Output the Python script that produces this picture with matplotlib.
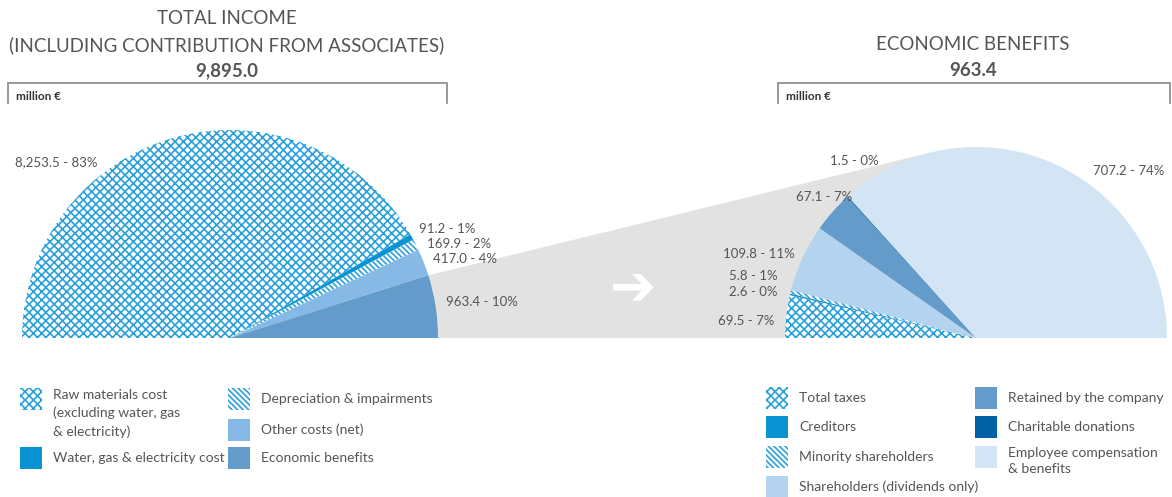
import numpy as np
import matplotlib
matplotlib.use("Agg")
import matplotlib.pyplot as plt
from matplotlib.patches import Rectangle, Polygon

plt.rcParams["font.family"] = ["Lato", "DejaVu Sans"]
plt.rcParams["hatch.linewidth"] = 1.2

# total income split
income_labels = ["Raw materials cost\n(excluding water, gas\n& electricity)", "Water, gas & electricity cost",
                 "Depreciation & impairments", "Other costs (net)", "Economic benefits"]
income_values = [8253.5, 91.2, 169.9, 417.0, 963.4]
income_pct = [83, 1, 2, 4, 10]
income_total = 9895.0

# economic benefits split
benefit_labels = ["Total taxes", "Creditors", "Minority shareholders", "Shareholders (dividends only)",
                  "Retained by the company", "Charitable donations", "Employee compensation\n& benefits"]
benefit_values = [69.5, 2.6, 5.8, 109.8, 67.1, 1.5, 707.2]
benefit_pct = [7, 0, 1, 11, 7, 0, 74]
benefit_total = 963.4

HATCH_BLUE = "#2aa0da"
income_colors = ["white", "#0a93d3", "white", "#86b9e6", "#639bca"]
income_hatch = ["xxxx", None, "\\\\\\\\\\\\", None, None]
benefit_colors = ["white", "#0a93d3", "white", "#b3d3ee", "#639bca", "#0062a5", "#d3e5f5"]
benefit_hatch = ["xxxx", None, "\\\\\\\\\\\\", None, None, None, None]
TXT = "#555555"

W, H = 1172, 497
fig = plt.figure(figsize=(W / 100, H / 100), dpi=100)
ax = fig.add_axes([0, 0, 1, 1])

left_c, left_r = (230, 159), 208
right_c, right_r = (976, 159), 191


def half_pie(values, colors, hatches, center, radius):
    wedges, _ = ax.pie(values + [sum(values)], startangle=180, counterclock=False,
                       center=center, radius=radius, frame=True,
                       colors=colors + ["white"], wedgeprops=dict(linewidth=0))
    wedges[-1].set_visible(False)
    for w, h in zip(wedges, hatches):
        if h:
            w.set_hatch(h)
            w.set_edgecolor(HATCH_BLUE)
            w.set_linewidth(0)
    return wedges


# grey connector from the economic benefits slice to the right pie
theta = np.pi * income_values[-1] / income_total
P = np.array(left_c) + left_r * np.array([np.cos(theta), np.sin(theta)])
C = np.array(right_c, dtype=float)
v = C - P
d = np.hypot(*v)
ang = np.arctan2(v[1], v[0]) + np.arcsin(right_r / d)
T = P + np.sqrt(d ** 2 - right_r ** 2) * np.array([np.cos(ang), np.sin(ang)])
ax.add_patch(Polygon([P, T, C, left_c], closed=True, facecolor="#e2e2e2", edgecolor="none", zorder=0))

half_pie(income_values, income_colors, income_hatch, left_c, left_r)
half_pie(benefit_values, benefit_colors, benefit_hatch, right_c, right_r)

ax.set_xlim(0, W)
ax.set_ylim(0, H)
ax.set_aspect("equal")
ax.axis("off")

# arrow
ax.text(633, H - 289, "\u2794", fontsize=40, color="white", ha="center", va="center",
        family="DejaVu Sans", fontweight="bold")


def lab(i, vals, pct, x, y, ha="left"):
    ax.text(x, H - y, f"{vals[i]:,.1f} - {pct[i]}%", fontsize=9.5, color=TXT, ha=ha, va="center")


# slice labels
lab(0, income_values, income_pct, 15, 162)
lab(1, income_values, income_pct, 419, 229)
lab(2, income_values, income_pct, 427, 244)
lab(3, income_values, income_pct, 433, 259)
lab(4, income_values, income_pct, 446, 302)

lab(0, benefit_values, benefit_pct, 718, 321)
lab(1, benefit_values, benefit_pct, 729, 292)
lab(2, benefit_values, benefit_pct, 729, 276)
lab(3, benefit_values, benefit_pct, 723, 254)
lab(4, benefit_values, benefit_pct, 796, 197)
lab(5, benefit_values, benefit_pct, 830, 161)
lab(6, benefit_values, benefit_pct, 1164, 171, ha="right")

# titles
TS = 13.5
ax.text(227, H - 18, "TOTAL INCOME", fontsize=TS, color=TXT, ha="center", va="center")
ax.text(227, H - 45, "(INCLUDING CONTRIBUTION FROM ASSOCIATES)", fontsize=TS, color=TXT, ha="center", va="center")
ax.text(227, H - 71, f"{income_total:,.1f}", fontsize=TS, color=TXT, ha="center", va="center", fontweight="bold")
ax.text(973, H - 45, "ECONOMIC BENEFITS", fontsize=TS, color=TXT, ha="center", va="center")
ax.text(973, H - 71, f"{benefit_total:,.1f}", fontsize=TS, color=TXT, ha="center", va="center", fontweight="bold")

# header boxes
for x0, x1 in [(8, 447), (778, 1170)]:
    ax.plot([x0, x0, x1, x1], [H - 103, H - 83, H - 83, H - 103], color="#888888", lw=1.2,
            solid_joinstyle="miter")
    ax.text(x0 + 8, H - 97, "million \u20ac", fontsize=8.5, color="#333333", fontweight="bold",
            ha="left", va="center")


def legend_item(x, y, color, hatch, text, ty=None, ls=1.5):
    r = Rectangle((x, H - y - 11), 22, 22, facecolor=color, edgecolor="none", lw=0)
    if hatch:
        r.set_hatch(hatch)
        r.set_edgecolor(HATCH_BLUE)
    ax.add_patch(r)
    if ty is None:
        ax.text(x + 33, H - y, text, fontsize=10, color=TXT, ha="left", va="center")
    else:
        ax.text(x + 33, H - ty, text, fontsize=10, color=TXT, ha="left", va="top", linespacing=ls)


legend_item(20, 399, income_colors[0], income_hatch[0], income_labels[0], ty=389, ls=1.55)
legend_item(20, 458, income_colors[1], income_hatch[1], income_labels[1])
legend_item(228, 399, income_colors[2], income_hatch[2], income_labels[2])
legend_item(228, 430, income_colors[3], income_hatch[3], income_labels[3])
legend_item(228, 458, income_colors[4], income_hatch[4], income_labels[4])

legend_item(766, 398, benefit_colors[0], benefit_hatch[0], benefit_labels[0])
legend_item(766, 427, benefit_colors[1], benefit_hatch[1], benefit_labels[1])
legend_item(766, 457, benefit_colors[2], benefit_hatch[2], benefit_labels[2])
legend_item(766, 487, benefit_colors[3], benefit_hatch[3], benefit_labels[3])
legend_item(975, 398, benefit_colors[4], benefit_hatch[4], benefit_labels[4])
legend_item(975, 427, benefit_colors[5], benefit_hatch[5], benefit_labels[5])
legend_item(975, 457, benefit_colors[6], benefit_hatch[6], benefit_labels[6], ty=447, ls=1.4)

fig.savefig("out.png", dpi=100)
